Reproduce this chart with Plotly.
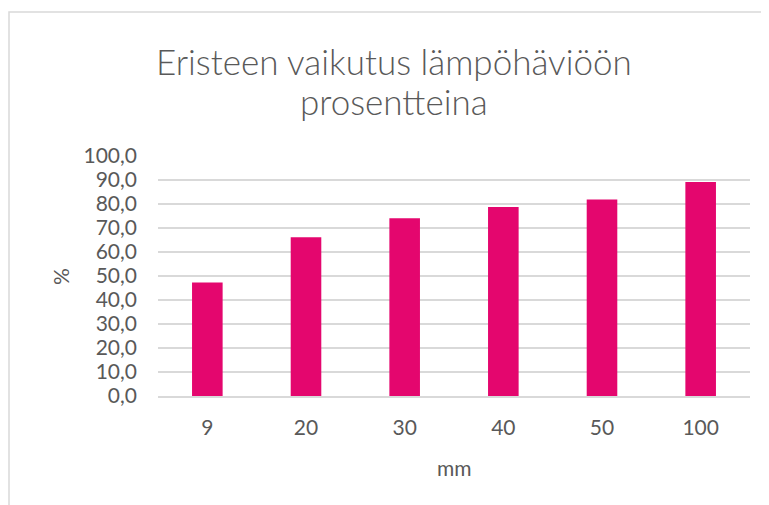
import plotly.graph_objects as go

categories = ["9", "20", "30", "40", "50", "100"]
values = [47.3, 66.1, 74.1, 78.7, 81.9, 89.2]
y_ticks = [0, 10, 20, 30, 40, 50, 60, 70, 80, 90, 100]

title_lines = ["Eristeen vaikutus lämpöhäviöön", "prosentteina"]
x_title = "mm"
y_title = "%"

# page body adds an 8px margin; work in reference pixel coords and shift
O = 8
W, H = 769 - O, 505 - O
L, R, T, B = 158 - O, 19, 156 - O, 109
pw, ph = W - L - R, H - T - B

def px(x):
    return (x - O - L) / pw

def py(y):
    return (H - B - (y - O)) / ph

text_color = "#595959"
grid_color = "#d9d9d9"
font_family = "Lato, 'Open Sans', sans-serif"

fig = go.Figure(
    go.Bar(
        x=categories,
        y=values,
        marker=dict(color="#E4066E", line=dict(width=0)),
        width=0.31,
    )
)

annotations = [
    dict(text=title_lines[0], xref="paper", yref="paper", x=px(394), y=py(61),
         xanchor="center", yanchor="middle", showarrow=False,
         font=dict(size=35, color=text_color, family=font_family, weight=300)),
    dict(text=title_lines[1], xref="paper", yref="paper", x=px(394), y=py(101),
         xanchor="center", yanchor="middle", showarrow=False,
         font=dict(size=35, color=text_color, family=font_family, weight=300)),
    dict(text=y_title, xref="paper", yref="paper", x=px(60), y=py(277),
         xanchor="center", yanchor="middle", showarrow=False, textangle=-90,
         font=dict(size=21, color=text_color, family=font_family)),
    dict(text=x_title, xref="paper", yref="paper", x=px(454), y=py(467),
         xanchor="center", yanchor="middle", showarrow=False,
         font=dict(size=21, color=text_color, family=font_family)),
]

fig.update_layout(
    width=W,
    height=H,
    margin=dict(l=L, r=R, t=T, b=B),
    paper_bgcolor="white",
    plot_bgcolor="white",
    separators=", ",
    showlegend=False,
    font=dict(family=font_family, color=text_color, size=20),
    xaxis=dict(
        type="category",
        showgrid=False,
        showline=True,
        linecolor=grid_color,
        linewidth=1.5,
        ticks="",
        ticklabelstandoff=12,
        tickfont=dict(size=21, color=text_color),
    ),
    yaxis=dict(
        range=[0, 100],
        tickvals=y_ticks,
        tickformat=".1f",
        showgrid=True,
        gridcolor=grid_color,
        gridwidth=1.5,
        zeroline=False,
        showline=False,
        ticks="",
        ticklabelstandoff=20,
        tickfont=dict(size=21, color=text_color),
    ),
    annotations=annotations,
    shapes=[
        dict(type="rect", xref="paper", yref="paper",
             x0=px(O + 1), x1=px(800), y0=py(12), y1=py(540),
             line=dict(color=grid_color, width=1.5), fillcolor="rgba(0,0,0,0)", layer="below"),
    ],
)

fig.write_html("out.html")
